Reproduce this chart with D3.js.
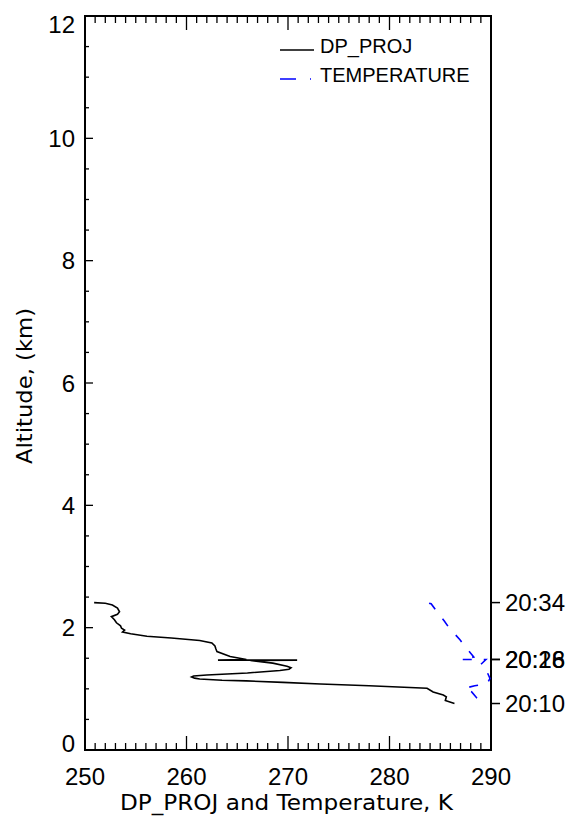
<!DOCTYPE html>
<html>
<head>
<meta charset="utf-8">
<script src="https://cdn.jsdelivr.net/npm/d3@7"></script>
<style>
  body { margin: 0; background: #fff; }
  svg { display: block; }
  text { font-family: "Liberation Sans", Arial, sans-serif; fill: #000; }
</style>
</head>
<body>
<div id="chart"></div>
<script>
// data
var dpTemp = [250.9, 252.0, 252.7, 253.2, 253.4, 253.2, 252.6, 252.9, 253.1, 253.5, 253.6, 253.9, 253.7, 254.5,
              256.1, 258.5, 261.3, 262.5, 262.8, 262.9, 263.0, 264.3, 265.9, 263.1, 270.9, 266.3, 268.5, 269.9,
              270.3, 270.1, 269.2, 266.0, 262.0, 260.7, 260.5, 260.8, 261.3, 263.5, 265.9, 269.5, 273.2, 278.0,
              283.7, 284.3, 285.3, 285.6, 285.5, 286.4];
var dpAlt  = [2.41, 2.40, 2.37, 2.32, 2.26, 2.22, 2.18, 2.13, 2.08, 2.03, 1.99, 1.96, 1.93, 1.90,
              1.86, 1.83, 1.79, 1.75, 1.70, 1.65, 1.61, 1.53, 1.48, 1.47, 1.47, 1.465, 1.42, 1.37,
              1.345, 1.32, 1.30, 1.26, 1.225, 1.21, 1.195, 1.175, 1.16, 1.14, 1.13, 1.105, 1.08, 1.05,
              1.01, 0.95, 0.90, 0.87, 0.81, 0.76];

var tmpTemp = [283.9, 284.1, 284.5, 284.9, 285.3, 285.4, 285.9, 286.3, 286.9, 287.0, 287.4, 288.3, 287.1, 289.5,
               289.0, 289.3, 289.6, 289.9, 289.6, 288.4, 287.4, 288.1, 288.6, 289.0, 289.5];
var tmpAlt  = [2.40, 2.39, 2.30, 2.21, 2.13, 2.11, 1.99, 1.92, 1.81, 1.79, 1.70, 1.52, 1.48, 1.48,
               1.40, 1.38, 1.28, 1.17, 1.08, 1.05, 1.01, 0.95, 0.85, 0.81, 0.76];

var timeLabels = ["20:10", "20:16", "20:28", "20:34"];
var timeAlt = [0.76, 1.48, 1.48, 2.41];

var xTicks = [250, 260, 270, 280, 290];
var yTicks = [0, 2, 4, 6, 8, 10, 12];

var W = 574, H = 818;
var x0 = 85, x1 = 491, yTop = 16, yBot = 750;

var svg = d3.select("#chart").append("svg")
  .attr("width", W)
  .attr("height", H);

var x = d3.scaleLinear().domain([250, 290]).range([x0, x1]);
var y = d3.scaleLinear().domain([0, 12]).range([yBot, yTop]);

// ticks (drawn inside the box)
var xMinor = d3.range(250, 290.01, 1);
var yMinor = d3.range(0, 12.01, 0.5);

var ticks = svg.append("g").attr("stroke", "#000").attr("stroke-width", 1.3);
xMinor.forEach(function(v) {
  var len = (v % 10 === 0) ? 14 : 7;
  ticks.append("line").attr("x1", x(v)).attr("x2", x(v)).attr("y1", yBot).attr("y2", yBot - len);
  ticks.append("line").attr("x1", x(v)).attr("x2", x(v)).attr("y1", yTop).attr("y2", yTop + len);
});
yMinor.forEach(function(v) {
  var len = (v % 2 === 0) ? 8 : 4;
  ticks.append("line").attr("x1", x0).attr("x2", x0 + len).attr("y1", y(v)).attr("y2", y(v));
});

// box
svg.append("rect")
  .attr("x", x0).attr("y", yTop)
  .attr("width", x1 - x0).attr("height", yBot - yTop)
  .attr("fill", "none").attr("stroke", "#000").attr("stroke-width", 2);

// tick labels
svg.selectAll(".xl").data(xTicks).enter().append("text")
  .attr("x", function(d) { return x(d); })
  .attr("y", 785)
  .attr("text-anchor", "middle")
  .style("font-size", "24px")
  .text(function(d) { return d; });

svg.selectAll(".yl").data(yTicks).enter().append("text")
  .attr("x", 75)
  .attr("y", function(d) {
    var yy = y(d) + 8.5;
    if (d === 12) yy += 8;
    if (d === 0) yy -= 7;
    return yy;
  })
  .attr("text-anchor", "end")
  .style("font-size", "24px")
  .text(function(d) { return d; });

// axis titles
svg.append("text")
  .attr("x", 286.5).attr("y", 810)
  .attr("text-anchor", "middle")
  .attr("textLength", 333)
  .attr("lengthAdjust", "spacingAndGlyphs")
  .style("font-family", "'DejaVu Sans', sans-serif")
  .style("font-size", "21px")
  .text("DP_PROJ and Temperature, K");

svg.append("text")
  .attr("transform", "translate(32,386) rotate(-90)")
  .attr("text-anchor", "middle")
  .attr("textLength", 156)
  .attr("lengthAdjust", "spacingAndGlyphs")
  .style("font-family", "'DejaVu Sans', sans-serif")
  .style("font-size", "22px")
  .text("Altitude, (km)");

// time axis on the right
var tg = svg.append("g");
timeLabels.forEach(function(t, i) {
  var yy = y(timeAlt[i]);
  tg.append("line").attr("x1", x1).attr("x2", x1 + 9).attr("y1", yy).attr("y2", yy)
    .attr("stroke", "#000").attr("stroke-width", 1.5);
  tg.append("text").attr("x", 505).attr("y", yy + 8.5)
    .style("font-size", "24px")
    .text(t);
});

// lines
var line = d3.line()
  .x(function(d) { return x(d[0]); })
  .y(function(d) { return y(d[1]); });

var dpData = dpTemp.map(function(t, i) { return [t, dpAlt[i]]; });
var tmpData = tmpTemp.map(function(t, i) { return [t, tmpAlt[i]]; });

svg.append("path")
  .datum(dpData)
  .attr("d", line)
  .attr("fill", "none")
  .attr("stroke", "#000")
  .attr("stroke-width", 1.6);

svg.append("path")
  .datum(tmpData)
  .attr("d", line)
  .attr("fill", "none")
  .attr("stroke", "#0000ff")
  .attr("stroke-width", 1.6)
  .attr("stroke-dasharray", "9,12");

// legend
var lg = svg.append("g");
lg.append("line").attr("x1", 280).attr("x2", 314).attr("y1", 50).attr("y2", 50)
  .attr("stroke", "#000").attr("stroke-width", 1.6);
lg.append("text").attr("x", 320).attr("y", 53).style("font-size", "20px").text("DP_PROJ");
lg.append("line").attr("x1", 280).attr("x2", 314).attr("y1", 79).attr("y2", 79)
  .attr("stroke", "#0000ff").attr("stroke-width", 1.6)
  .attr("stroke-dasharray", "16,14,1,14");
lg.append("text").attr("x", 320).attr("y", 82).style("font-size", "20px").text("TEMPERATURE");
</script>
</body>
</html>
